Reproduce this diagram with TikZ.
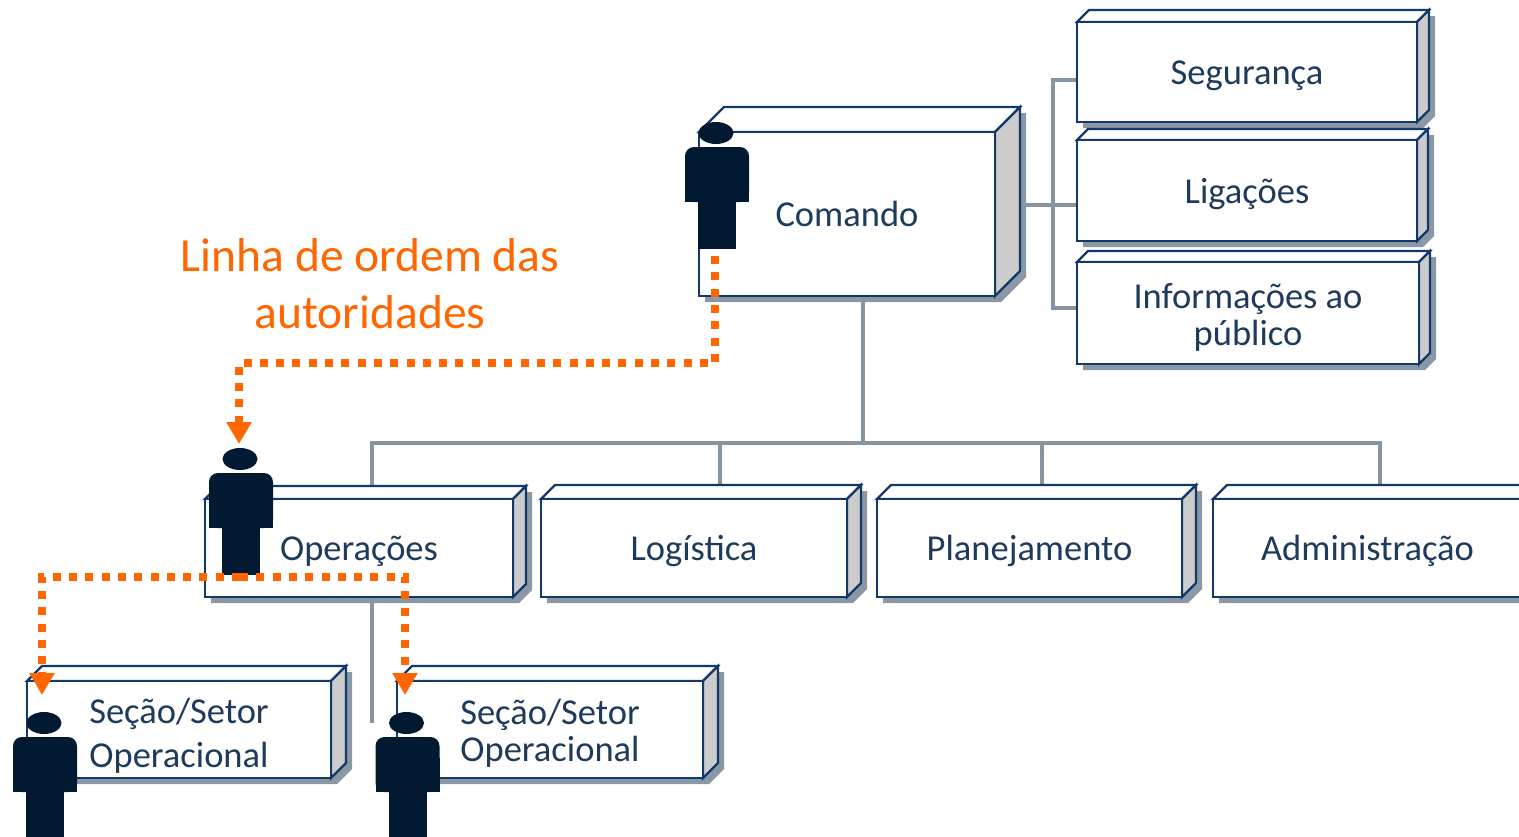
\documentclass[tikz,border=0pt]{standalone}
\usepackage{fontspec}
\setmainfont{Carlito}
\usetikzlibrary{arrows.meta,calc}
\definecolor{bordc}{HTML}{13386A}
\definecolor{sidec}{HTML}{CCCCCC}
\definecolor{shadowc}{HTML}{8A97A4}
\definecolor{connc}{HTML}{8795A3}
\definecolor{textc}{HTML}{1F3B5B}
\definecolor{orangec}{HTML}{FF6600}
\definecolor{personc}{HTML}{021A31}
\tikzset{
  boxline/.style={draw=bordc, line width=2.2pt, line join=miter},
  frontbox/.style={boxline, fill=white, rectangle, inner sep=0pt, outer sep=0pt,
    text=textc, font=\fontsize{36.5}{37}\selectfont, align=center},
  oneline/.style={text height=25.5pt, text depth=0pt},
  conn/.style={draw=connc, line width=4.5pt},
  orderline/.style={draw=orangec, line width=8pt, dash pattern=on 8pt off 8.3pt,
    -{Triangle[width=24pt,length=22pt,fill=orangec]}},
  ordertext/.style={text=orangec, font=\fontsize{47.5}{57}\selectfont, align=center, inner sep=0pt},
  person/.pic={
    \fill[personc] (0,0) ellipse [x radius=17.5pt, y radius=11pt];
    \fill[personc, rounded corners=9pt] (-31,14) rectangle (33,69);
    \fill[personc] (-31,35) rectangle (33,69);
    \fill[personc] (-18,68) rectangle (20,116);
  }
}
\newcommand{\tl}[1]{\rule{0pt}{#1em}}
\newcommand{\bl}{\rule[-0.25em]{0pt}{0.25em}}
% #1 name, #2 x1, #3 y1, #4 x2, #5 y2, #6 depth, #7 node options, #8 text
\newcommand{\cubox}[8]{%
  \fill[shadowc] ({#2+6},{#5+6}) -- ({#2+6},{#3+6}) -- ({#2+#6+6},{#3-#6+6})
    -- ({#4+#6+6},{#3-#6+6}) -- ({#4+#6+6},{#5-#6+6}) -- ({#4+6},{#5+6}) -- cycle;
  \filldraw[boxline, fill=white] (#2,#3) -- ({#2+#6},{#3-#6}) -- ({#4+#6},{#3-#6}) -- (#4,#3) -- cycle;
  \filldraw[boxline, fill=sidec] (#4,#3) -- ({#4+#6},{#3-#6}) -- ({#4+#6},{#5-#6}) -- (#4,#5) -- cycle;
  \node[frontbox, minimum width={(#4-#2)*1pt}, minimum height={(#5-#3)*1pt},
    anchor=north west, #7] (#1) at (#2,#3) {#8};
}
\begin{document}
\begin{tikzpicture}[x=1pt, y=-1pt]
\useasboundingbox (0,0) rectangle (1519,836);

% connector coordinates
\coordinate (busL) at (372,443);
\coordinate (busC) at (863,443);
\coordinate (busR) at (1380,443);
\coordinate (busLog) at (720,443);
\coordinate (busPlan) at (1042,443);
\coordinate (opsend) at (372,723);
\coordinate (brT) at (1053,80);
\coordinate (brM) at (1053,205);
\coordinate (brB) at (1053,308);

% gray connectors (behind boxes)
\draw[conn] (opsend) -- (busL) -- (busR) -- (1380,490);
\draw[conn] (863,290) -- (busC);
\draw[conn] (busLog) -- (720,492);
\draw[conn] (busPlan) -- (1042,490);
\draw[conn] (1080,80) -- (brT) -- (brB) -- (1080,308);
\draw[conn] (1000,205) -- (1080,205);

% boxes
\cubox{comando}{699}{132}{995}{296}{25}{oneline}{Comando}
\cubox{seg}{1077}{22}{1417}{122}{12}{oneline}{Segurança}
\cubox{lig}{1077}{140}{1417}{241}{11}{oneline}{Ligações}
\cubox{info}{1077}{262}{1419}{364}{11}{}{\tl{1.0}Informações ao\\público\bl}
\cubox{ops}{205}{499}{513}{597}{13}{oneline}{Operações}
\cubox{log}{541}{499}{847}{597}{14}{oneline}{Logística}
\cubox{plan}{877}{499}{1182}{597}{14}{oneline}{Planejamento}
\cubox{adm}{1213}{499}{1522}{597}{14}{oneline}{Administração}
\cubox{sec1}{27}{681}{331}{778}{15}{font=\fontsize{36.5}{44}\selectfont}{\tl{1.12}Seção/Setor\\Operacional\bl}
\cubox{sec2}{397}{681}{703}{778}{15}{}{\tl{1.0}Seção/Setor\\Operacional\bl}

% persons
\pic at (716,133) {person};
\pic at (240,459) {person};
\pic at (44,723) {person};
\pic at (406.5,723) {person};

% label
\node[ordertext] (lbl) at (370,283.5) {\tl{0.7}Linha de ordem das\\autoridades};

% line of authority
\coordinate (cmdfoot) at (715,256);
\coordinate (opstip) at (239,444);
\coordinate (opsfoot) at (240,577);
\coordinate (s1tip) at (42,695);
\coordinate (s2tip) at (405,695);
\draw[orderline] (cmdfoot) -- ++(0,107) -| (opstip);
\draw[orderline] (opsfoot) -| (s1tip);
\draw[orderline] (opsfoot) -| (s2tip);
\end{tikzpicture}
\end{document}
